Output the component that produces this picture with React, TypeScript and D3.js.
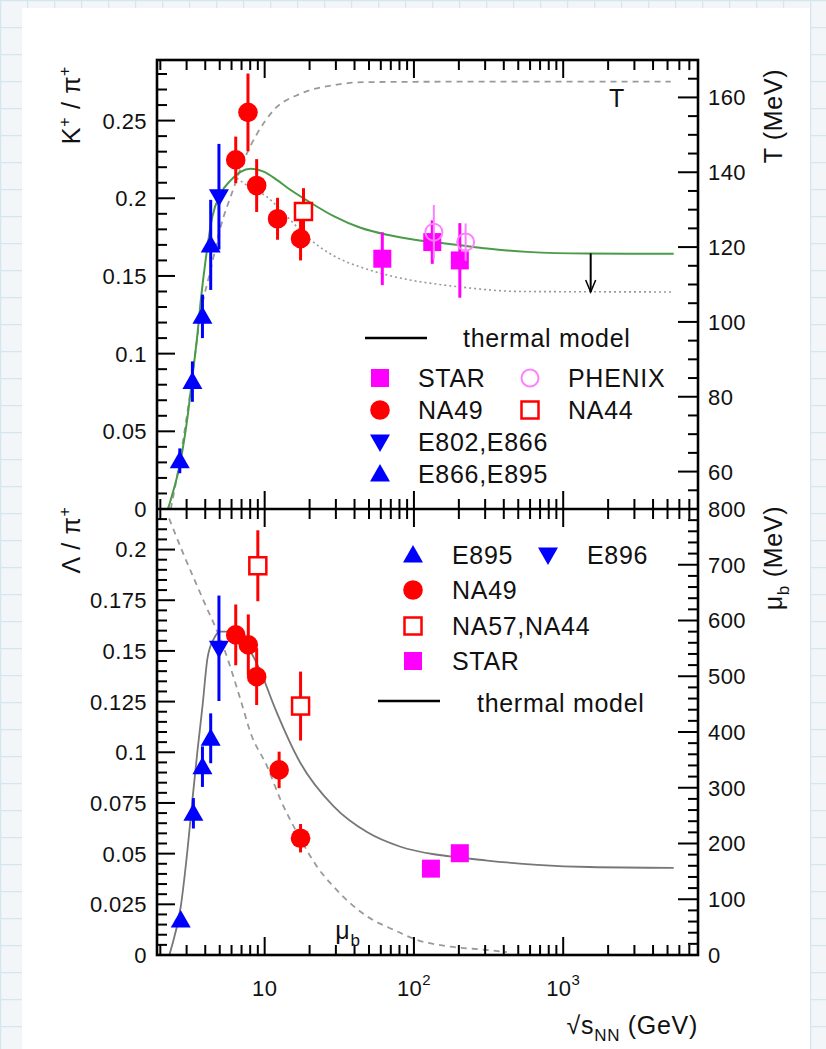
import React from 'react';
import * as d3 from 'd3';

const W = 826;
const H = 1049;

// ---------- data: K+/pi+ (top panel) [sqrt(s), value, error] ----------
const kpE866E895 = [[2.7, 0.031, 0.008], [3.28, 0.082, 0.013], [3.83, 0.124, 0.014], [4.35, 0.17, 0.029]];
const kpE802E866 = [[4.94, 0.201, 0.034]];
const kpNA49 = [[6.4, 0.2247, 0.015], [7.73, 0.2553, 0.025], [8.84, 0.2082, 0.017], [12.2, 0.1868, 0.0135], [17.4, 0.174, 0.014]];
const kpNA44 = [[18.2, 0.1915, 0.015]];
const kpSTAR = [[61.4, 0.1611, 0.017], [132.7, 0.1718, 0.014], [203, 0.16, 0.024]];
const kpPHENIX = [[136, 0.1782, 0.0175], [222, 0.1718, 0.012]];

// thermal model K+/pi+ (green), T(sqrt s) dashed (right axis), dotted variant
const kpModel = [[2.25, 0], [2.35, 0.006], [2.74, 0.0315], [3.04, 0.059], [3.28, 0.085], [3.55, 0.113], [3.73, 0.134], [4.02, 0.16], [4.46, 0.188], [5.07, 0.203], [5.92, 0.2115], [6.9, 0.217], [8.05, 0.219], [9.85, 0.2172], [12.2, 0.2115], [14.2, 0.2068], [19.3, 0.1985], [29, 0.1885], [43.9, 0.181], [66, 0.1765], [99, 0.1735], [135, 0.1718], [205, 0.1697], [310, 0.1676], [571, 0.1655], [1445, 0.1644], [5500, 0.1643]];
const tempCurve = [[2.35, 50], [2.61, 59.5], [3.19, 81.8], [3.73, 102.3], [4.35, 114], [5.07, 125.4], [6.08, 134.8], [7.27, 143.3], [8.93, 150.4], [11.5, 156.6], [17.4, 161], [29.1, 163.3], [48.8, 164.1], [200, 164.2], [5250, 164.2]];
const kpModelDotted = [[6.5, 0.213], [7.7, 0.208], [10.4, 0.2008], [14.2, 0.188], [19.3, 0.175], [29, 0.163], [44, 0.1557], [61, 0.1515], [99, 0.147], [136, 0.145], [205, 0.1429], [520, 0.1400], [5500, 0.1397]];
const arrowAt = [1528, 0.1645, 0.1397];

// ---------- data: Lambda/pi+ (bottom panel) ----------
const lpE895 = [[2.74, 0.0173, 0.003], [3.33, 0.0699, 0.0075], [3.83, 0.0929, 0.01], [4.35, 0.1069, 0.0123]];
const lpE896 = [[4.94, 0.1513, 0.026]];
const lpNA49 = [[6.4, 0.1579, 0.015], [7.77, 0.153, 0.015], [8.84, 0.1373, 0.014], [12.5, 0.0913, 0.009], [17.4, 0.0576, 0.007]];
const lpNA57NA44 = [[9.0, 0.192, 0.0175], [17.4, 0.1228, 0.017]];
const lpSTAR = [[130, 0.0426, 0.004], [203, 0.0502, 0.004]];

const lpModel = [[2.3, 0], [2.35, 0.0025], [2.74, 0.0238], [3.04, 0.0518], [3.28, 0.0765], [3.55, 0.101], [3.83, 0.1225], [4.14, 0.1464], [4.58, 0.1562], [5.07, 0.1595], [5.92, 0.1595], [6.91, 0.1562], [8.05, 0.1496], [9.4, 0.1398], [11.5, 0.1233], [17.4, 0.0946], [29.1, 0.0732], [48.8, 0.0605], [81.3, 0.0534], [136, 0.0497], [205, 0.0481], [310, 0.0466], [670, 0.0445], [1500, 0.0434], [5500, 0.043]];
const muBCurve = [[2.29, 783], [2.88, 717], [3.92, 634], [5.34, 550], [6.91, 457], [8.06, 398], [10.4, 338], [12.8, 278], [16.6, 218], [22.5, 158], [29.1, 122], [48.7, 69], [73.5, 45], [105, 27], [176, 15], [310, 9], [420, 5]];

// ---------- tick labels ----------
const kpTicks = [0, 0.05, 0.1, 0.15, 0.2, 0.25];
const kpTickLabels = ['0', '0.05', '0.1', '0.15', '0.2', '0.25'];
const tTicks = [60, 80, 100, 120, 140, 160];
const lpTicks = [0, 0.025, 0.05, 0.075, 0.1, 0.125, 0.15, 0.175, 0.2];
const lpTickLabels = ['0', '0.025', '0.05', '0.075', '0.1', '0.125', '0.15', '0.175', '0.2'];
const muTicks = [0, 100, 200, 300, 400, 500, 600, 700, 800];
const xDecades = [10, 100, 1000];

const FONT = '"Liberation Sans", Arial, Helvetica, sans-serif';
const BLUE = '#0000ff';
const RED = '#ff0000';
const MAG = '#ff00ff';
const PHX = '#ff80ff';
const GREEN = '#4a9a4a';
const GREY = '#9a9a9a';

const L = 157, R = 698, T0 = 60, MID = 509, B = 955;

const x = d3.scaleLog().domain([1.9, 8000]).range([L, R]);
const yKP = d3.scaleLinear().domain([0, 0.289]).range([MID, T0]);
const yT = d3.scaleLinear().domain([50, 170]).range([MID, T0]);
const yLP = d3.scaleLinear().domain([0, 0.22]).range([B, MID]);
const yMu = d3.scaleLinear().domain([0, 800]).range([B, MID]);

type Shape = 'tu' | 'td' | 'c' | 'sq' | 'osq' | 'oc';

function Marker({ cx, cy, shape, color, s = 1 }: { cx: number; cy: number; shape: Shape; color: string; s?: number }) {
  const r = 10 * s;
  if (shape === 'tu') return <polygon points={`${cx},${cy - r} ${cx - r},${cy + 0.75 * r} ${cx + r},${cy + 0.75 * r}`} fill={color} />;
  if (shape === 'td') return <polygon points={`${cx},${cy + r} ${cx - r},${cy - 0.75 * r} ${cx + r},${cy - 0.75 * r}`} fill={color} />;
  if (shape === 'c') return <circle cx={cx} cy={cy} r={9.8 * s} fill={color} />;
  if (shape === 'sq') return <rect x={cx - 9 * s} y={cy - 9 * s} width={18 * s} height={18 * s} fill={color} />;
  if (shape === 'osq') return <rect x={cx - 8.5 * s} y={cy - 8.5 * s} width={17 * s} height={17 * s} fill="white" stroke={color} strokeWidth={2.5} />;
  return <circle cx={cx} cy={cy} r={8.5 * s} fill="none" stroke={color} strokeWidth={2} />;
}

function Series({ data, y, shape, color }: { data: number[][]; y: d3.ScaleLinear<number, number>; shape: Shape; color: string }) {
  return (
    <g>
      {data.map((d, i) => (
        <line key={'e' + i} x1={x(d[0])} x2={x(d[0])} y1={y(d[1] - d[2])} y2={y(d[1] + d[2])} stroke={color} strokeWidth={shape === 'oc' ? 2 : 3} />
      ))}
      {data.map((d, i) => (
        <Marker key={'m' + i} cx={x(d[0])} cy={y(d[1])} shape={shape} color={color} />
      ))}
    </g>
  );
}

function curvePath(data: number[][], y: d3.ScaleLinear<number, number>) {
  return d3
    .line<number[]>()
    .x((d) => x(d[0]))
    .y((d) => y(d[1]))
    .curve(d3.curveMonotoneX)(data) || '';
}

function logTicks(): { v: number; major: boolean }[] {
  const out: { v: number; major: boolean }[] = [];
  for (const dec of [1, 10, 100, 1000]) {
    for (let k = 1; k <= 9; k++) {
      const v = dec * k;
      if (v >= 1.9 && v <= 8000) out.push({ v, major: k === 1 });
    }
  }
  return out;
}

function linTicks(lo: number, hi: number, step: number, majorEvery: number) {
  const out: { v: number; major: boolean }[] = [];
  const n = Math.round((hi - lo) / step);
  for (let i = 0; i <= n; i++) {
    const v = lo + i * step;
    out.push({ v, major: i % majorEvery === 0 });
  }
  return out;
}

function Axes() {
  const lt = logTicks();
  const els: React.ReactNode[] = [];
  const MAJ = 18, MIN = 10;
  lt.forEach((t, i) => {
    const xx = x(t.v);
    const len = t.major ? MAJ : MIN;
    els.push(<line key={'xa' + i} x1={xx} x2={xx} y1={T0} y2={T0 + len} />);
    els.push(<line key={'xb' + i} x1={xx} x2={xx} y1={MID} y2={MID - len} />);
    els.push(<line key={'xc' + i} x1={xx} x2={xx} y1={MID} y2={MID + len} />);
    els.push(<line key={'xd' + i} x1={xx} x2={xx} y1={B} y2={B - len} />);
  });
  linTicks(0, 0.28, 0.01, 5).forEach((t, i) => {
    const yy = yKP(t.v);
    els.push(<line key={'lk' + i} x1={L} x2={L + (t.major ? MAJ : MIN)} y1={yy} y2={yy} />);
  });
  linTicks(50, 170, 5, 4).forEach((t, i) => {
    const yy = yT(t.v);
    const major = (t.v - 60) % 20 === 0;
    els.push(<line key={'rt' + i} x1={R} x2={R - (major ? 20 : MIN)} y1={yy} y2={yy} />);
  });
  linTicks(0, 0.22, 0.005, 5).forEach((t, i) => {
    const yy = yLP(t.v);
    els.push(<line key={'lb' + i} x1={L} x2={L + (t.major ? MAJ : MIN)} y1={yy} y2={yy} />);
  });
  linTicks(0, 800, 20, 5).forEach((t, i) => {
    const yy = yMu(t.v);
    els.push(<line key={'rb' + i} x1={R} x2={R - (t.major ? 20 : MIN)} y1={yy} y2={yy} />);
  });
  return (
    <g stroke="#000" strokeWidth={2}>
      {els}
      <rect x={L} y={T0} width={R - L} height={B - T0} fill="none" strokeWidth={2.6} />
      <line x1={L} x2={R} y1={MID} y2={MID} strokeWidth={2.6} />
    </g>
  );
}

function TickLabels() {
  const fs = 22;
  return (
    <g fontFamily={FONT} fontSize={fs} fill="#111" letterSpacing={0.4}>
      {kpTicks.map((v, i) => (
        <text key={'k' + i} x={147} y={yKP(v)} dy="0.36em" textAnchor="end">{kpTickLabels[i]}</text>
      ))}
      {lpTicks.map((v, i) => (
        <text key={'l' + i} x={147} y={yLP(v)} dy="0.36em" textAnchor="end">{lpTickLabels[i]}</text>
      ))}
      {tTicks.map((v, i) => (
        <text key={'t' + i} x={708} y={yT(v)} dy="0.36em">{v}</text>
      ))}
      {muTicks.map((v, i) => (
        <text key={'m' + i} x={708} y={yMu(v)} dy="0.36em">{v}</text>
      ))}
      {xDecades.map((v, i) => (
        <text key={'x' + i} x={x(v)} y={996} textAnchor="middle">
          10
          {i > 0 ? <tspan dy={-11} fontSize={15}>{i + 1}</tspan> : null}
        </text>
      ))}
    </g>
  );
}

function App() {
  const legendTop: [Shape, string, string, number, number][] = [
    ['sq', MAG, 'STAR', 380, 378],
    ['c', RED, 'NA49', 380, 410],
    ['td', BLUE, 'E802,E866', 380, 442],
    ['tu', BLUE, 'E866,E895', 380, 474],
    ['oc', PHX, 'PHENIX', 530, 378],
    ['osq', RED, 'NA44', 530, 410],
  ];
  const legendBot: [Shape, string, string, number, number][] = [
    ['tu', BLUE, 'E895', 413, 555],
    ['td', BLUE, 'E896', 548, 555],
    ['c', RED, 'NA49', 413, 590],
    ['osq', RED, 'NA57,NA44', 413, 626],
    ['sq', MAG, 'STAR', 413, 661],
  ];
  const ax = x(arrowAt[0]);
  const ay1 = yKP(arrowAt[1]);
  const ay2 = yKP(arrowAt[2]);
  return (
    <div style={{ position: 'absolute', left: 0, top: 0, width: W, height: H }}>
      <svg width={W} height={H} viewBox={`0 0 ${W} ${H}`} style={{ display: 'block' }}>
        <defs>
          <pattern id="grid" width={27} height={27} patternUnits="userSpaceOnUse">
            <rect width={27} height={27} fill="#f2f6f9" />
            <path d="M 0 0.5 H 27 M 0.5 0 V 27" stroke="#d6e6ee" strokeWidth={1.5} fill="none" />
          </pattern>
        </defs>
        <rect width={W} height={H} fill="url(#grid)" />
        <rect x={22} y={8} width={788} height={H - 8} fill="#ffffff" />

        <path d={curvePath(tempCurve, yT)} fill="none" stroke={GREY} strokeWidth={1.8} strokeDasharray="6,5" />
        <path d={curvePath(kpModelDotted, yKP)} fill="none" stroke={GREY} strokeWidth={1.6} strokeDasharray="2,3" />
        <path d={curvePath(kpModel, yKP)} fill="none" stroke={GREEN} strokeWidth={2} />
        <line x1={ax} x2={ax} y1={ay1} y2={ay2} stroke="#000" strokeWidth={2} />
        <polyline points={`${ax - 5},${ay2 - 12} ${ax},${ay2} ${ax + 5},${ay2 - 12}`} fill="none" stroke="#000" strokeWidth={1.5} />

        <path d={curvePath(muBCurve, yMu)} fill="none" stroke={GREY} strokeWidth={1.8} strokeDasharray="6,5" />
        <path d={curvePath(lpModel, yLP)} fill="none" stroke="#777" strokeWidth={1.8} />

        <Series data={kpE866E895} y={yKP} shape="tu" color={BLUE} />
        <Series data={kpE802E866} y={yKP} shape="td" color={BLUE} />
        <Series data={kpNA49} y={yKP} shape="c" color={RED} />
        <Series data={kpNA44} y={yKP} shape="osq" color={RED} />
        <Series data={kpSTAR} y={yKP} shape="sq" color={MAG} />
        <Series data={kpPHENIX} y={yKP} shape="oc" color={PHX} />

        <Series data={lpE895} y={yLP} shape="tu" color={BLUE} />
        <Series data={lpE896} y={yLP} shape="td" color={BLUE} />
        <Series data={lpNA49} y={yLP} shape="c" color={RED} />
        <Series data={lpNA57NA44} y={yLP} shape="osq" color={RED} />
        <Series data={lpSTAR} y={yLP} shape="sq" color={MAG} />

        <Axes />
        <TickLabels />

        <g fontFamily={FONT} fontSize={25} fill="#111" letterSpacing={0.7}>
          <line x1={365} x2={427} y1={338} y2={338} stroke="#000" strokeWidth={2.5} />
          <text x={463} y={338} dy="0.36em">thermal model</text>
          {legendTop.map(([sh, col, lab, lx, ly], i) => (
            <g key={'lt' + i}>
              <Marker cx={lx} cy={ly} shape={sh} color={col} />
              <text x={lx + 38} y={ly} dy="0.36em">{lab}</text>
            </g>
          ))}
          {legendBot.map(([sh, col, lab, lx, ly], i) => (
            <g key={'lb' + i}>
              <Marker cx={lx} cy={ly} shape={sh} color={col} />
              <text x={lx + 39} y={ly} dy="0.36em">{lab}</text>
            </g>
          ))}
          <line x1={378} x2={440} y1={701} y2={701} stroke="#000" strokeWidth={2.5} />
          <text x={477} y={703} dy="0.36em">thermal model</text>

          <text x={617} y={98} dy="0.36em" textAnchor="middle">T</text>
          <text x={348} y={930} dy="0.36em" textAnchor="middle">
            μ<tspan dy={7} fontSize={17}>b</tspan>
          </text>

          <text transform="translate(80,105) rotate(-90)" textAnchor="middle">
            K<tspan dy={-10} fontSize={16}>+</tspan>
            <tspan dy={10}> / π</tspan>
            <tspan dy={-10} fontSize={16}>+</tspan>
          </text>
          <text transform="translate(80,540) rotate(-90)" textAnchor="middle">
            Λ / π<tspan dy={-10} fontSize={16}>+</tspan>
          </text>
          <text transform="translate(782,116) rotate(-90)" textAnchor="middle">T (MeV)</text>
          <text transform="translate(782,558) rotate(-90)" textAnchor="middle">
            μ<tspan dy={7} fontSize={17}>b</tspan>
            <tspan dy={-7}> (MeV)</tspan>
          </text>
          <text x={698} y={1034} textAnchor="end">
            √s<tspan dy={7} fontSize={17}>NN</tspan>
            <tspan dy={-7}> (GeV)</tspan>
          </text>
        </g>
      </svg>
    </div>
  );
}

export default App;
